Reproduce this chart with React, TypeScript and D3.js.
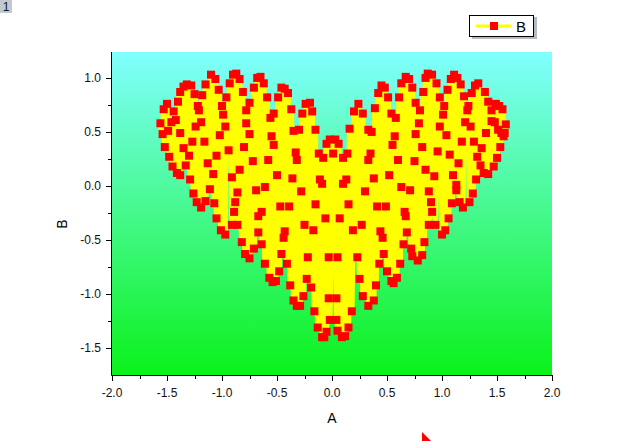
import React from 'react';
import * as d3 from 'd3';

const aValues = [
  -1.10, -1.06, -1.15, -0.90, -0.87, -0.84, -0.93, -0.68, -0.65, -0.62,
  -1.32, -1.35, -1.28, -1.38, -1.25, -1.18, -1.03, -0.96, -0.81, -0.71,
  -0.59, -0.49, -0.46, -0.43, -0.40, -1.50, -1.53, -1.40, -1.44, -1.22,
  -1.21, -1.00, -0.75, -0.78, -0.99, -0.53, -0.56, -0.37, -0.24, -0.20,
  -0.18, -0.27, -1.56, -1.46, -1.42, -1.19, -1.24, -0.97, -0.78, -0.75,
  -1.02, -0.35, -0.30, -0.15, -1.54, -1.49, -1.38, -1.27, -1.16, -0.94,
  -0.80, -0.55, -0.53, -0.02, 0.03, -0.05, 0.06, -0.33, -0.32, -0.12,
  -0.08, 0.01, 0.10, -1.52, -1.35, -1.30, -1.05, -1.13, -0.72, -0.58,
  -1.48, -1.45, -1.41, -1.38, -1.33, -1.29, -1.08, -0.84, -0.91, -0.50,
  -0.36, -0.11, -0.09, 0.10, 0.13, -1.26, -1.11, -0.86, -0.69, -0.61,
  -0.28, -1.23, -1.19, -1.15, -1.07, -0.88, -0.47, -0.39, -0.15, 0.15,
  -1.05, -0.89, -0.64, -0.67, -0.06, 0.07, 0.24, 0.20, 0.28, 0.16,
  0.33, 0.36, 0.14, 0.35, 0.33, 0.30, 0.38, 0.52, 0.41, 0.49,
  0.45, 0.48, 0.42, 0.51, 0.39, 0.54, 0.58, 0.63, 0.67, 0.70,
  0.73, 0.61, 0.76, 0.80, 0.83, 0.87, 0.91, 0.85, 0.95, 0.98,
  1.02, 1.01, 1.05, 1.08, 1.11, 1.14, 1.17, 1.20, 1.24, 1.23,
  1.27, 1.30, 1.33, 1.39, 1.42, 1.45, 1.49, 1.52, 1.55, 1.58,
  1.45, 1.48, 1.51, 1.54, 1.57, 1.56, 1.40, 1.21, 1.26, 0.79,
  0.76, 0.57, 0.55, 0.82, 0.96, 1.04, 0.98, 1.18, 1.29, 1.36,
  1.53, 1.50, 1.32, 1.07, 1.15, 1.35, 1.38, 1.42, 1.47, 1.31,
  1.13, 1.10, 0.93, 0.85, 0.75, 0.60, 0.71, 0.63, 0.88, 1.13,
  1.28, 0.90, 1.09, 1.16, 1.19, 1.25, 0.66, 0.91, 0.67, 1.06,
  -1.01, -0.97, -0.91, -0.86, -0.67, -0.43, -0.25, -0.17, 0.19, 0.27,
  0.44, 0.68, 0.88, 0.94, 1.00, 1.03, -0.82, -0.64, -0.44, 0.46,
  0.65, 0.72, 0.84, -0.79, -0.75, -0.71, -0.46, -0.22, -0.03, 0.05,
  0.23, 0.47, 0.62, 0.73, 0.78, 0.82, -0.61, -0.48, -0.41, -0.23,
  -0.19, 0.25, 0.40, 0.43, 0.50, -0.57, -0.54, -0.51, -0.38, -0.26,
  -0.35, -0.32, -0.29, -0.03, 0.04, 0.28, 0.38, 0.33, 0.54, 0.59,
  0.56, -0.16, 0.18, -0.02, 0.04, -0.13, -0.05, 0.05, 0.15, -0.09,
  -0.07, 0.09, 0.12,
];

const bValues = [
  1.03, 0.99, 0.94, 1.03, 1.04, 0.99, 0.95, 1.00, 1.01, 0.95,
  0.94, 0.92, 0.93, 0.87, 0.85, 0.84, 0.89, 0.82, 0.87, 0.91,
  0.82, 0.82, 0.91, 0.90, 0.86, 0.76, 0.71, 0.78, 0.69, 0.74,
  0.70, 0.74, 0.77, 0.70, 0.66, 0.67, 0.63, 0.71, 0.76, 0.77,
  0.69, 0.67, 0.58, 0.59, 0.61, 0.59, 0.55, 0.55, 0.58, 0.48,
  0.47, 0.51, 0.52, 0.52, 0.48, 0.51, 0.49, 0.41, 0.41, 0.33,
  0.36, 0.46, 0.38, 0.43, 0.43, 0.39, 0.39, 0.31, 0.24, 0.30,
  0.26, 0.30, 0.26, 0.36, 0.35, 0.28, 0.28, 0.21, 0.23, 0.24,
  0.27, 0.18, 0.12, 0.10, 0.19, 0.06, 0.11, 0.15, 0.08, 0.10,
  0.07, 0.06, 0.02, 0.02, 0.06, -0.07, -0.03, -0.06, -0.04, -0.01,
  -0.05, -0.15, -0.20, -0.14, -0.16, -0.15, -0.19, -0.19, -0.17, -0.17,
  -0.30, -0.24, -0.24, -0.28, -0.30, -0.30, 0.76, 0.69, 0.67, 0.53,
  0.52, 0.50, 0.30, 0.30, 0.24, -0.05, 0.07, 0.10, -0.19, -0.19,
  0.93, 0.91, 0.86, 0.82, 0.72, 0.67, 0.63, 0.95, 1.01, 0.99,
  0.91, 0.82, 0.77, 0.70, 0.87, 1.04, 1.03, 1.00, 0.95, 0.82,
  0.74, 0.66, 0.89, 0.99, 1.03, 1.00, 0.94, 0.83, 0.74, 0.70,
  0.86, 0.93, 0.95, 0.87, 0.78, 0.70, 0.76, 0.74, 0.71, 0.57,
  0.60, 0.59, 0.52, 0.49, 0.49, 0.46, 0.49, 0.59, 0.55, 0.58,
  0.48, 0.46, 0.38, 0.36, 0.32, 0.47, 0.55, 0.41, 0.41, 0.35,
  0.36, 0.26, 0.27, 0.29, 0.21, 0.19, 0.12, 0.11, 0.18, 0.06,
  0.01, 0.10, 0.09, 0.15, 0.23, 0.24, -0.04, -0.01, -0.05, -0.04,
  -0.07, -0.15, -0.16, -0.15, -0.20, -0.15, -0.24, -0.24, -0.28, -0.30,
  -0.41, -0.45, -0.36, -0.36, -0.43, -0.42, -0.36, -0.41, -0.41, -0.36,
  -0.42, -0.43, -0.36, -0.36, -0.45, -0.41, -0.52, -0.54, -0.48, -0.48,
  -0.54, -0.58, -0.52, -0.63, -0.67, -0.58, -0.63, -0.66, -0.66, -0.66,
  -0.66, -0.63, -0.72, -0.65, -0.69, -0.64, -0.72, -0.79, -0.72, -0.86,
  -0.94, -0.86, -0.92, -0.72, -0.79, -0.85, -0.89, -0.88, -0.92, -1.02,
  -1.06, -1.11, -1.11, -1.04, -1.04, -1.02, -1.06, -1.11, -0.88, -0.85,
  -0.90, -1.16, -1.16, -1.24, -1.24, -1.31, -1.35, -1.34, -1.31, -1.40,
  -1.40, -1.40, -1.39,
];

const xDomain = [-2, 2];
const yDomain = [-1.75, 1.24];
const xMajorTicks = [-2, -1.5, -1, -0.5, 0, 0.5, 1, 1.5, 2];
const xMinorTicks = [-1.75, -1.25, -0.75, -0.25, 0.25, 0.75, 1.25, 1.75];
const yMajorTicks = [-1.5, -1, -0.5, 0, 0.5, 1];
const yMinorTicks = [-1.25, -0.75, -0.25, 0.25, 0.75];
const xTitle = 'A';
const yTitle = 'B';
const seriesName = 'B';

const W = 640;
const H = 441;
const left = 112;
const right = 552;
const top = 52;
const bottom = 375;
const FONT = 'Arial, "Liberation Sans", sans-serif';

export default function App() {
  const x = d3.scaleLinear().domain(xDomain).range([left, right]);
  const y = d3.scaleLinear().domain(yDomain).range([bottom, top]);

  const order = d3.range(aValues.length).sort((i, j) => aValues[i] - aValues[j]);
  const line = d3
    .line<number>()
    .x((i) => x(aValues[i]))
    .y((i) => y(bValues[i]));
  const pathD = line(order) || '';
  const fmt = (v: number) => v.toFixed(1);
  const ms = 8;

  return (
    <svg
      width={W}
      height={H}
      viewBox={`0 0 ${W} ${H}`}
      style={{ position: 'absolute', left: 0, top: 0, background: '#fff' }}
    >
      <defs>
        <linearGradient id="bg" x1="0" y1="0" x2="0" y2="1">
          <stop offset="0" stopColor="#80ffff" />
          <stop offset="1" stopColor="#0af21a" />
        </linearGradient>
        <clipPath id="plotClip">
          <rect x={left} y={top} width={right - left} height={bottom - top} />
        </clipPath>
      </defs>

      {/* layer tag */}
      <rect x={0} y={0} width={12} height={13} fill="#c2cad0" />
      <text x={6} y={11} fontSize={12} fontFamily={FONT} textAnchor="middle" fill="#10182a">1</text>

      {/* plot background */}
      <rect x={left} y={top} width={right - left} height={bottom - top} fill="url(#bg)" />

      {/* data */}
      <g clipPath="url(#plotClip)">
        <path d={pathD} fill="none" stroke="#ffff00" strokeWidth={5.5} strokeLinejoin="round" strokeLinecap="round" />
        {order.map((i) => (
          <rect
            key={i}
            x={x(aValues[i]) - ms / 2}
            y={y(bValues[i]) - ms / 2}
            width={ms}
            height={ms}
            fill="#ff0000"
          />
        ))}
      </g>

      {/* axes */}
      <g stroke="#000" strokeWidth={1}>
        <line x1={left - 0.5} y1={top} x2={left - 0.5} y2={bottom + 0.5} />
        <line x1={left - 0.5} y1={bottom + 0.5} x2={right + 0.5} y2={bottom + 0.5} />
        {xMajorTicks.map((t) => (
          <line key={'xM' + t} x1={Math.round(x(t)) + 0.5} x2={Math.round(x(t)) + 0.5} y1={bottom} y2={bottom + 6} />
        ))}
        {xMinorTicks.map((t) => (
          <line key={'xm' + t} x1={Math.round(x(t)) + 0.5} x2={Math.round(x(t)) + 0.5} y1={bottom} y2={bottom + 4} />
        ))}
        {yMajorTicks.map((t) => (
          <line key={'yM' + t} x1={left - 6} x2={left} y1={Math.round(y(t)) + 0.5} y2={Math.round(y(t)) + 0.5} />
        ))}
        {yMinorTicks.map((t) => (
          <line key={'ym' + t} x1={left - 4} x2={left} y1={Math.round(y(t)) + 0.5} y2={Math.round(y(t)) + 0.5} />
        ))}
      </g>

      <g fontFamily={FONT} fontSize={12} fill="#111">
        {xMajorTicks.map((t) => (
          <text key={'xl' + t} x={x(t)} y={bottom + 22} textAnchor="middle">{fmt(t)}</text>
        ))}
        {yMajorTicks.map((t) => (
          <text key={'yl' + t} x={left - 11} y={y(t) + 4} textAnchor="end">{fmt(t)}</text>
        ))}
      </g>

      <text x={(left + right) / 2} y={423} textAnchor="middle" fontFamily={FONT} fontSize={14} fill="#000">{xTitle}</text>
      <text transform="translate(67,224) rotate(-90)" textAnchor="middle" fontFamily={FONT} fontSize={14} fill="#000">{yTitle}</text>

      {/* legend */}
      <rect x={472} y={17} width={65} height={22} fill="#b4bcc2" />
      <rect x={469.5} y={15.5} width={64} height={21} fill="#fff" stroke="#000" strokeWidth={1} />
      <line x1={476} x2={511} y1={26} y2={26} stroke="#ffff00" strokeWidth={3} />
      <rect x={494 - ms / 2} y={26 - ms / 2} width={ms} height={ms} fill="#ff0000" />
      <text x={516} y={32} fontFamily={FONT} fontSize={15} fill="#000">{seriesName}</text>

      {/* corner marker */}
      <polygon points="422,432 422,441 431,441" fill="#ff0000" />
    </svg>
  );
}
